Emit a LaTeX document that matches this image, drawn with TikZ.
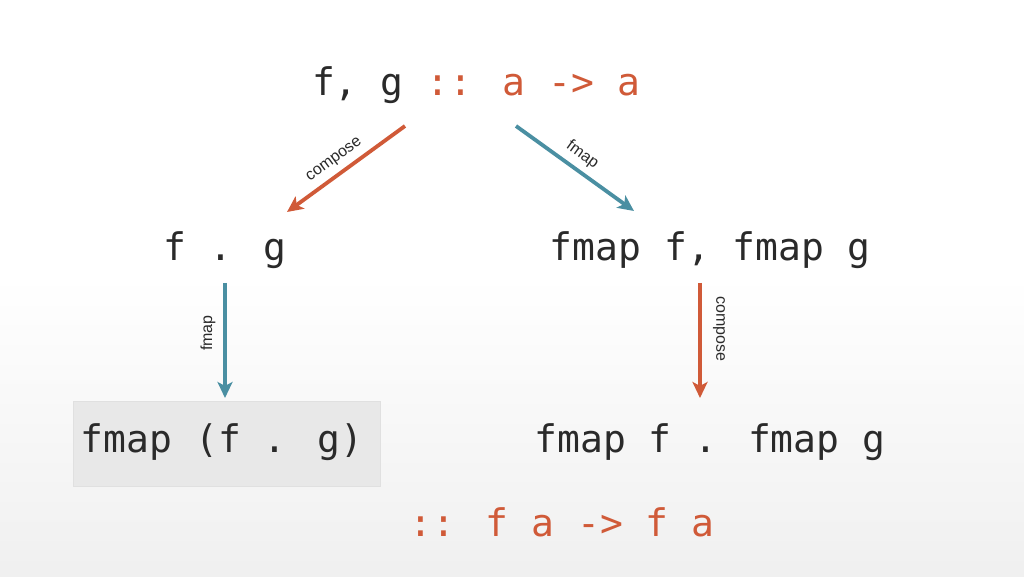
\documentclass[tikz,border=0pt]{standalone}
\usepackage{fontspec}
\setmainfont{Liberation Sans}
\newfontfamily\codefont{DejaVu Sans Mono}
\usetikzlibrary{arrows.meta}
\definecolor{orng}{HTML}{D05A38}
\definecolor{teal2}{HTML}{4A8FA2}
\definecolor{ink}{HTML}{2A2A2A}
\begin{document}
\begin{tikzpicture}[x=1pt,y=1pt,
  code/.style={font=\codefont\fontsize{38}{40}\selectfont, text=ink, inner sep=0pt},
  lbl/.style={font=\fontsize{16}{18}\selectfont, text=ink, inner sep=1pt},
  arr/.style={line width=3.8pt, -{Stealth[length=16pt,width=15pt,inset=4pt]}}]
\path[fill=white] (0,576) rectangle (1024,300);
\shade[top color=white, bottom color=black!6] (0,300) rectangle (1024,0);
\useasboundingbox (0,0) rectangle (1024,576);
\node[code] (top) at (476,491) {f, g \textcolor{orng}{:: a -> a}};
\node[code] (fg) at (225,326) {f . g};
\node[code] (ff) at (710,326) {fmap f, fmap g};
\node[draw=black!12, fill=black!9, minimum width=307pt, minimum height=85pt] (box) at (226.5,132.5) {};
\node[code] (fmfg) at (222,134) {fmap (f . g)};
\node[code] (fcf) at (710,134) {fmap f . fmap g};
\node[code, text=orng] (typ) at (562,54) {:: f a -> f a};
\coordinate (a1) at (405,450); \coordinate (b1) at (287,364);
\coordinate (a2) at (516,450); \coordinate (b2) at (634,365);
\coordinate (a3) at (225,293); \coordinate (b3) at (225,178);
\coordinate (a4) at (700,293); \coordinate (b4) at (700,178);
\draw[arr, orng] (a1) -- (b1) node[lbl, midway, above, sloped, yshift=5pt, xshift=-4pt] {compose};
\draw[arr, teal2] (a2) -- (b2) node[lbl, midway, above, sloped, yshift=5pt, xshift=-2pt] {fmap};
\draw[arr, teal2] (a3) -- (b3);
\node[lbl, rotate=90] (l3) at (208,243) {fmap};
\draw[arr, orng] (a4) -- (b4);
\node[lbl, rotate=-90] (l4) at (719,247) {compose};
\end{tikzpicture}
\end{document}
